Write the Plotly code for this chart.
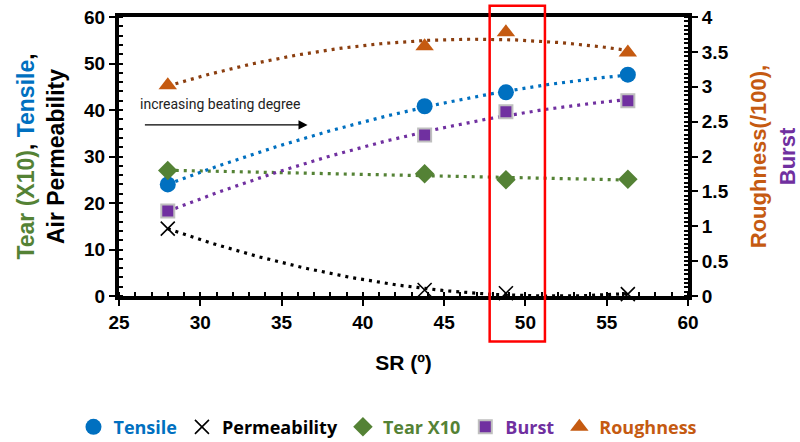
import numpy as np
import plotly.graph_objects as go

# ---- data ----
sr = [28.0, 43.8, 48.8, 56.3]
tensile = [24.0, 40.8, 43.8, 47.6]
permeability = [14.5, 1.3, 0.6, 0.4]
tear_x10 = [27.0, 26.3, 25.0, 25.1]
burst = [1.22, 2.31, 2.64, 2.80]
roughness = [3.02, 3.58, 3.78, 3.49]

x_ticks = [25, 30, 35, 40, 45, 50, 55, 60]

C_TENS = "#0070C0"
C_PERM = "#000000"
C_TEAR = "#548235"
C_BURST = "#7030A0"
C_ROUGH = "#C55A11"
C_ROUGH_LINE = "#8B3E0F"

fig = go.Figure()

xs = np.linspace(min(sr), max(sr), 120)


def trend(y, color, yaxis):
    coef = np.polyfit(sr, y, 2)
    fig.add_trace(go.Scatter(x=xs, y=np.polyval(coef, xs), mode="lines",
                             line=dict(color=color, width=3.2, dash="3px,5px"),
                             showlegend=False, hoverinfo="skip", yaxis=yaxis))


trend(permeability, C_PERM, "y")
trend(tear_x10, C_TEAR, "y")
trend(tensile, C_TENS, "y")
trend(burst, C_BURST, "y2")
trend(roughness, C_ROUGH_LINE, "y2")


def lbl(t, c):
    return f"<b><span style='color:{c}'>{t}</span></b>"


fig.add_trace(go.Scatter(x=sr, y=tensile, mode="markers", name=lbl("Tensile", C_TENS),
                         marker=dict(symbol="circle", size=16, color=C_TENS), cliponaxis=False))
fig.add_trace(go.Scatter(x=sr, y=permeability, mode="markers", name=lbl("Permeability", C_PERM),
                         marker=dict(symbol="x-thin", size=14, color=C_PERM,
                                     line=dict(color=C_PERM, width=1.6)), cliponaxis=False))
fig.add_trace(go.Scatter(x=sr, y=tear_x10, mode="markers", name=lbl("Tear X10", C_TEAR),
                         marker=dict(symbol="diamond", size=15, color=C_TEAR), cliponaxis=False))
fig.add_trace(go.Scatter(x=sr, y=burst, mode="markers", name=lbl("Burst", C_BURST), yaxis="y2",
                         marker=dict(symbol="square", size=13, color=C_BURST,
                                     line=dict(color="#BFBFBF", width=2)), cliponaxis=False))
fig.add_trace(go.Scatter(x=sr, y=roughness, mode="markers", name=lbl("Roughness", C_ROUGH), yaxis="y2",
                         marker=dict(symbol="triangle-up", size=16, color=C_ROUGH), cliponaxis=False))

AX_FONT = dict(family="Liberation Sans", size=19, color="black")

fig.update_layout(
    width=800, height=442,
    margin=dict(l=119, r=112, t=17, b=146, autoexpand=False),
    paper_bgcolor="white", plot_bgcolor="white",
    font=dict(family="Liberation Sans", color="black"),
    xaxis=dict(range=[25, 60], tickvals=x_ticks, ticktext=[f"<b>{v}</b>" for v in x_ticks],
               showgrid=False, zeroline=False, showline=True, linecolor="black", linewidth=4,
               mirror=True, ticks="outside", ticklen=6, tickwidth=2, tickcolor="black",
               minor=dict(dtick=1, ticks="inside", ticklen=4, tickwidth=1.5, tickcolor="black"),
               tickfont=AX_FONT,
               title=dict(text="<b>SR (º)</b>", font=dict(family="Liberation Sans", size=21),
                          standoff=25)),
    yaxis=dict(range=[0, 60], dtick=10, showgrid=False, zeroline=False, showline=True,
               linecolor="black", linewidth=4, ticks="outside", ticklen=6, tickwidth=2,
               tickcolor="black",
               minor=dict(dtick=2, ticks="inside", ticklen=4, tickwidth=1.5, tickcolor="black"),
               tickfont=AX_FONT, tickprefix="<b>", ticksuffix="</b>",
               title=dict(text=f"<span style='color:{C_TEAR}'>Tear (X10)</span>, "
                               f"<span style='color:{C_TENS}'>Tensile</span>,<br>Air Permeability",
                          font=dict(family="Liberation Sans", size=23, weight="bold"),
                          standoff=14)),
    yaxis2=dict(range=[0, 4], dtick=0.5, overlaying="y", side="right", showgrid=False,
                zeroline=False, showline=True, linecolor="black", linewidth=4,
                ticks="outside", ticklen=6, tickwidth=2, tickcolor="black",
                minor=dict(dtick=0.0625, ticks="inside", ticklen=4, tickwidth=1.5, tickcolor="black"),
                tickfont=AX_FONT, tickprefix="<b>", ticksuffix="</b>",
                title=dict(text=f"<span style='color:{C_ROUGH}'>Roughness(/100),</span><br>"
                                f"<span style='color:{C_BURST}'>Burst</span>",
                           font=dict(family="Liberation Sans", size=22, weight="bold"),
                           standoff=29)),
    legend=dict(orientation="h", x=-0.08, xanchor="left", y=-0.47, yanchor="middle",
                font=dict(family="Open Sans", size=18), itemwidth=30, tracegroupgap=0,
                bgcolor="rgba(0,0,0,0)"),
    showlegend=True,
)

# annotation arrow + text
fig.add_annotation(x=36.6, y=36.8, ax=26.5, ay=36.8, xref="x", yref="y", axref="x", ayref="y",
                   text="", showarrow=True, arrowhead=2, arrowsize=1.4, arrowwidth=1.3,
                   arrowcolor="black")
fig.add_annotation(x=31.2, y=41.3, xref="x", yref="y", text="increasing beating degree",
                   showarrow=False, font=dict(family="Roboto", size=14, color="#222222"))

# red highlight box
fig.add_shape(type="rect", xref="x", yref="paper", x0=47.8, x1=51.2, y0=-0.163, y1=1.04,
              line=dict(color="#FF0000", width=2.5), fillcolor="rgba(0,0,0,0)", layer="above")

fig.write_html("out.html")
